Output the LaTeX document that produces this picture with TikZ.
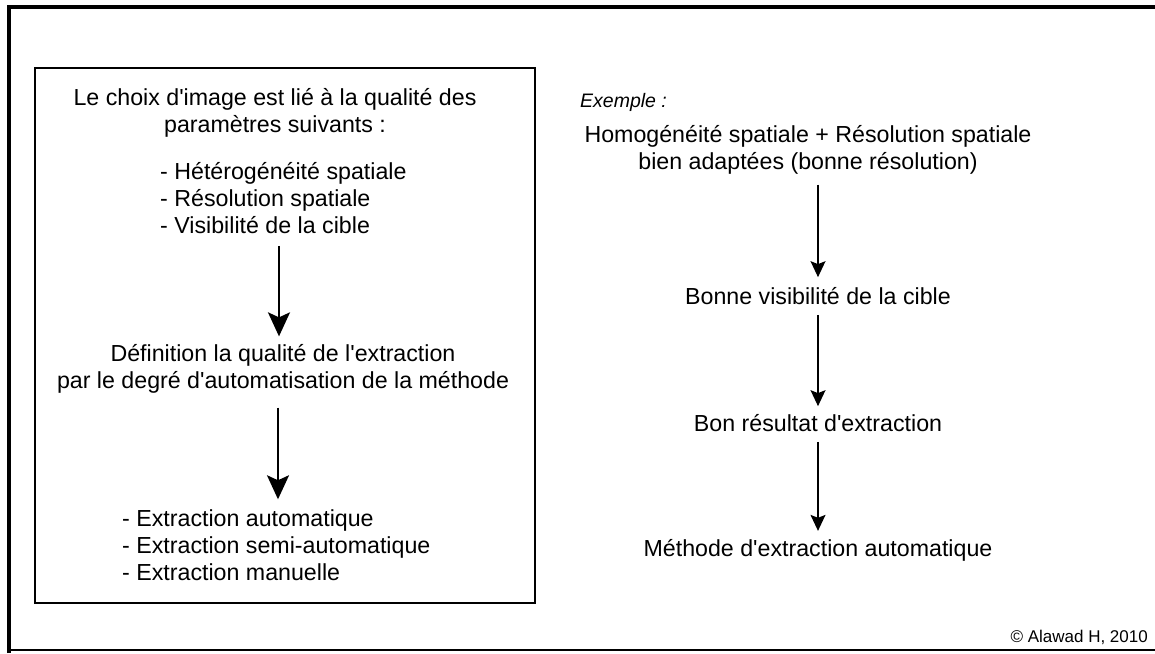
\documentclass[tikz,border=0pt]{standalone}
\usepackage{fontspec}
\setmainfont{Liberation Sans}
\usetikzlibrary{arrows.meta}
\newcommand{\q}{\textquotesingle}
\tikzset{
  txt/.style={inner sep=0pt, align=center, font=\fontsize{23.2}{27}\selectfont},
  lst/.style={inner sep=0pt, align=left, font=\fontsize{23.2}{27}\selectfont},
  bigarr/.style={line width=2pt, -{Stealth[length=24pt,width=22pt,inset=5pt]}},
  smallarr/.style={line width=1.3pt, -{Stealth[length=16pt,width=15pt,inset=3pt]}},
}
\begin{document}
\begin{tikzpicture}[x=1pt,y=-1pt]
\useasboundingbox (0,0) rectangle (1155,653);
\fill[white] (0,0) rectangle (1155,653);
% outer frame
\draw[line width=4pt] (9,653) -- (9,7) -- (1155,7);
\draw[line width=1.5pt] (9,650) -- (1155,650);
% left box
\draw[line width=2pt] (35,68) rectangle (535,603);

\node[txt] (choix) at (275,113) {Le choix d\q image est lié à la qualité des\\paramètres suivants :};
\node[lst, anchor=west] (params) at (160,198) {- Hétérogénéité spatiale\\- Résolution spatiale\\- Visibilité de la cible};
\node[txt] (def) at (283,369) {Définition la qualité de l\q extraction\\par le degré d\q automatisation de la méthode};
\node[lst, anchor=west] (extr) at (122,545) {- Extraction automatique\\- Extraction semi-automatique\\- Extraction manuelle};

\coordinate (a1x) at (279,0);
\coordinate (a2x) at (278,0);
\draw[bigarr, shorten <=12pt, shorten >=8pt] (params.south -| a1x) -- (a1x |- def.north);
\draw[bigarr, shorten <=14pt, shorten >=10pt] (def.south -| a2x) -- (a2x |- extr.north);

% right
\node[inner sep=0pt, anchor=west, font=\fontsize{19.5}{22}\selectfont\itshape] (ex) at (580,102) {Exemple :};
\node[txt] (homo) at (808,150) {Homogénéité spatiale + Résolution spatiale\\bien adaptées (bonne résolution)};
\node[txt] (vis) at (818,296) {Bonne visibilité de la cible};
\node[txt] (res) at (818,423) {Bon résultat d\q extraction};
\node[txt] (meth) at (818,550) {Méthode d\q extraction automatique};
\draw[smallarr, shorten <=10pt, shorten >=10pt] (homo.south -| vis.north) -- (vis.north);
\draw[smallarr, shorten <=10pt, shorten >=8pt] (vis.south) -- (res.north);
\draw[smallarr, shorten <=10pt, shorten >=8pt] (res.south) -- (meth.north);

\node[inner sep=0pt, anchor=east, font=\fontsize{17}{20}\selectfont] (copy) at (1148,637) {© Alawad H, 2010};
\end{tikzpicture}
\end{document}
